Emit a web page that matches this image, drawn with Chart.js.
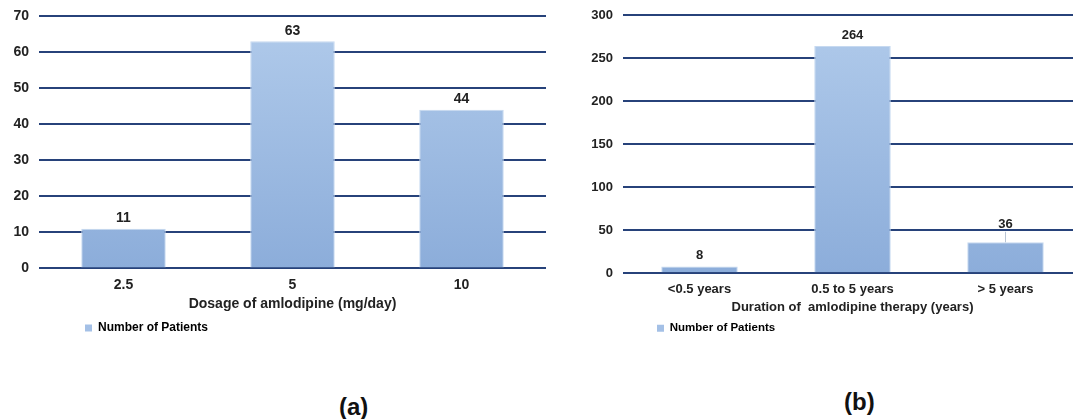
<!DOCTYPE html>
<html>
<head>
<meta charset="utf-8">
<script src="https://cdn.jsdelivr.net/npm/chart.js@4.4.0/dist/chart.umd.min.js"></script>
<style>
  html, body { margin: 0; padding: 0; background: #fff; overflow: hidden; }
  body { width: 1073px; height: 419px; position: relative; font-family: 'Liberation Sans', Arial, sans-serif; }
  .box { position: absolute; top: 0; }
  .cap { position: absolute; font-weight: bold; font-size: 24px; color: #111; line-height: 28px; }
</style>
</head>
<body>
<div class="box" style="left:0;width:550px;height:344px"><canvas id="chartA"></canvas></div>
<div class="box" style="left:565px;width:520px;height:344px"><canvas id="chartB"></canvas></div>
<div class="cap" style="left:339px;top:393px">(a)</div>
<div class="cap" style="left:844px;top:388px">(b)</div>
<script>
// data
const dosageLabels = ['2.5', '5', '10'];
const dosagePatients = [11, 63, 44];
const durationLabels = ['<0.5 years', '0.5 to 5 years', '> 5 years'];
const durationPatients = [8, 264, 36];
const seriesName = 'Number of Patients';

const gridColor = '#27427a';
const family = "'Liberation Sans', Arial, sans-serif";

// light blue bar fill, lighter at the top
function barFill(ctx) {
  const c = ctx.chart, a = c.chartArea;
  if (!a) return '#a4c0e6';
  const g = c.ctx.createLinearGradient(0, a.top, 0, a.bottom);
  g.addColorStop(0, '#b1cbeb');
  g.addColorStop(1, '#8cadda');
  return g;
}

// value labels above bars (some lifted with a small leader line)
const valueLabels = {
  id: 'valueLabels',
  afterDatasetsDraw(chart, args, opts) {
    const { ctx } = chart;
    const ds = chart.data.datasets[0];
    const lift = opts.lift || {};
    chart.getDatasetMeta(0).data.forEach((bar, i) => {
      const extra = lift[i] || 0;
      const y = bar.y - 10.5 - extra;
      ctx.save();
      if (extra) {
        ctx.strokeStyle = '#b8c4d4';
        ctx.lineWidth = 1;
        ctx.beginPath();
        ctx.moveTo(bar.x, y + 7);
        ctx.lineTo(bar.x, bar.y);
        ctx.stroke();
      }
      ctx.font = `bold ${opts.size}px ${family}`;
      ctx.fillStyle = '#222';
      ctx.textAlign = 'center';
      ctx.textBaseline = 'middle';
      ctx.fillText(ds.data[i], bar.x, y);
      ctx.restore();
    });
  }
};

// shift the legend sideways so it sits under the plot
const legendShift = {
  id: 'legendShift',
  afterLayout(chart, args, opts) {
    if (chart.legend) {
      chart.legend.left += opts.dx;
      chart.legend.right += opts.dx;
    }
  }
};

function makeChart(id, cfg) {
  const tickFont = { family, weight: 'bold', size: cfg.font };
  return new Chart(document.getElementById(id), {
    type: 'bar',
    data: {
      labels: cfg.labels,
      datasets: [{
        label: seriesName,
        data: cfg.values,
        backgroundColor: barFill,
        borderColor: '#c6d9f0',
        borderWidth: 1,
        categoryPercentage: 1,
        barPercentage: 0.5
      }]
    },
    options: {
      responsive: true,
      maintainAspectRatio: false,
      animation: false,
      layout: { padding: { top: cfg.padTop, right: cfg.padRight, left: 0, bottom: 0 } },
      plugins: {
        tooltip: { enabled: false },
        valueLabels: { size: cfg.font, lift: cfg.lift },
        legendShift: { dx: cfg.legendDx },
        legend: {
          position: 'bottom',
          align: 'start',
          labels: {
            boxWidth: 7, boxHeight: 7, padding: 6,
            color: '#222',
            font: { family, weight: 'bold', size: cfg.legendFont },
            generateLabels: () => [{ text: seriesName, fillStyle: '#a4c0e6', strokeStyle: '#a4c0e6', lineWidth: 0 }]
          }
        }
      },
      scales: {
        x: {
          grid: { display: false, drawTicks: false },
          border: { display: false },
          ticks: { color: '#222', font: tickFont, padding: 8 },
          title: { display: true, text: cfg.title, color: '#222', font: tickFont, padding: { top: cfg.titleTop, bottom: cfg.titleBottom } }
        },
        y: {
          min: 0, max: cfg.yMax,
          afterFit(s) { s.width = cfg.yWidth; s.paddingTop = 0; },
          grid: { color: gridColor, lineWidth: 2, drawTicks: false },
          border: { display: false },
          ticks: { stepSize: cfg.yStep, color: '#222', font: tickFont, padding: 10 }
        }
      }
    },
    plugins: [valueLabels, legendShift]
  });
}

makeChart('chartA', {
  labels: dosageLabels, values: dosagePatients, yMax: 70, yStep: 10, yWidth: 39,
  title: 'Dosage of amlodipine (mg/day)', font: 14, legendFont: 12,
  padTop: 16, padRight: 4, titleTop: -5, titleBottom: 3, legendDx: 79, lift: {}
});
makeChart('chartB', {
  labels: durationLabels, values: durationPatients, yMax: 300, yStep: 50, yWidth: 58,
  title: 'Duration of  amlodipine therapy (years)', font: 13, legendFont: 11.5,
  padTop: 15, padRight: 3, titleTop: -5, titleBottom: 1, legendDx: 86, lift: { 2: 7 }
});
</script>
</body>
</html>
